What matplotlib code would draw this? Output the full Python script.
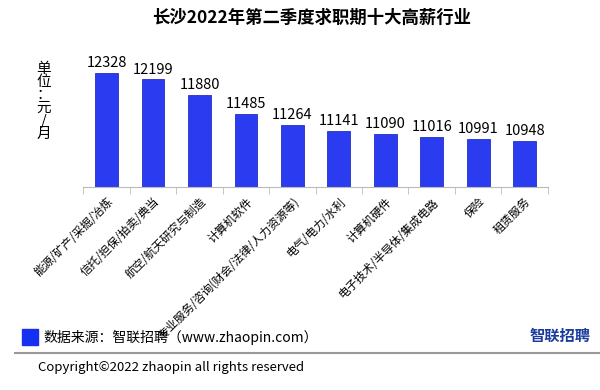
import numpy as np
import matplotlib.pyplot as plt

plt.rcParams['font.family'] = ['Noto Sans CJK SC', 'DejaVu Sans']

industries = ['能源/矿产/采掘/冶炼', '信托/担保/拍卖/典当', '航空/航天研究与制造', '计算机软件',
              '专业服务/咨询(财会/法律/人力资源等)', '电气/电力/水利', '计算机硬件',
              '电子技术/半导体/集成电路', '保险', '租赁服务']
salary = [12328, 12199, 11880, 11485, 11264, 11141, 11090, 11016, 10991, 10948]

fig = plt.figure(figsize=(6, 3.9), dpi=100)
ax = fig.add_axes([0.139, 0.5205, 0.774, 0.326])

x = np.arange(len(salary))
ax.bar(x, salary, width=0.49, color='#2B3BF0', edgecolor='#2230C8', linewidth=0.6)
for xi, v in zip(x, salary):
    ax.text(xi, v + 60, str(v), ha='center', va='bottom', fontsize=10.5)

ax.set_ylim(10000, 12600)
ax.set_xlim(-0.5, 9.5)
ax.set_yticks([])
for s in ['top', 'right', 'left']:
    ax.spines[s].set_visible(False)
ax.spines['bottom'].set_color('#BBBBBB')
ax.set_xticks(x)
ax.set_xticklabels(industries, rotation=45, ha='right', rotation_mode='anchor', fontsize=8.3)
ax.tick_params(axis='x', which='major', length=0, pad=6)
ax.set_xticks(np.arange(-0.5, 10, 1), minor=True)
ax.tick_params(axis='x', which='minor', length=5, color='#BBBBBB')

fig.text(0.52, 0.955, '长沙2022年第二季度求职期十大高薪行业', ha='center', va='center',
         fontsize=12.5, fontweight='bold')
fig.text(0.073, 0.74, '单\n位\n：\n元\n/\n月', ha='center', va='center', fontsize=10.5, linespacing=0.92)

fig.patches.append(plt.Rectangle((22 / 600, 1 - 345 / 390), 16 / 600, 16 / 390,
                                 transform=fig.transFigure, color='#1530F0'))
fig.text(43 / 600, 1 - 337 / 390, '数据来源：智联招聘（www.zhaopin.com）', ha='left', va='center', fontsize=10)
fig.add_artist(plt.Line2D([15 / 600, 1], [1 - 353 / 390] * 2, color='#999999', linewidth=1.5))
fig.text(38 / 600, 1 - 368 / 390, 'Copyright©2022 zhaopin all rights reserved', ha='left', va='center', fontsize=9.5)
fig.text(0.985, 1 - 336 / 390, '智联招聘', ha='right', va='center', fontsize=11, color='#1B3C9E', fontweight='bold')

fig.savefig('out.png', dpi=100)
